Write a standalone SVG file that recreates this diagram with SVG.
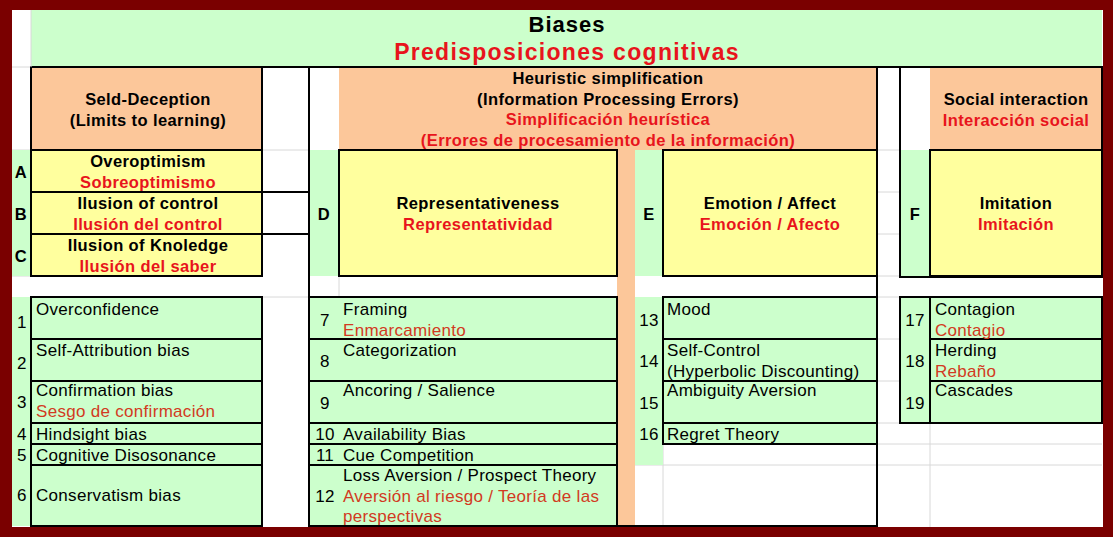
<svg xmlns="http://www.w3.org/2000/svg" width="1113" height="537" viewBox="0 0 1113 537">
<style>
text{font-family:"Liberation Sans",Arial,sans-serif;fill:#000}
.b{font-weight:bold;font-size:16.5px;letter-spacing:0.4px}
.r{fill:#e8141c}
.n{font-size:17px;letter-spacing:0.3px}
.ir{fill:#d23a22}
.c{text-anchor:middle}
.g{fill:#ccffcc}
.o{fill:#fcc79a}
.y{fill:#ffff9e}
.k{fill:none;stroke:#000;stroke-width:2}
.gl{stroke:#d8d8d8;stroke-width:1}
</style>
<rect width="1113" height="537" fill="#7a0000"/>
<rect x="12" y="10" width="1091" height="517" fill="#fff"/>
<g id="gridlines">
<line class="gl" x1="12" y1="67" x2="31" y2="67"/><line class="gl" x1="12" y1="150" x2="31" y2="150"/>
<line class="gl" x1="262" y1="150" x2="309" y2="150"/><line class="gl" x1="262" y1="297" x2="309" y2="297"/>
<line class="gl" x1="877" y1="150" x2="900" y2="150"/><line class="gl" x1="877" y1="192" x2="900" y2="192"/><line class="gl" x1="877" y1="234" x2="900" y2="234"/><line class="gl" x1="877" y1="276" x2="1102" y2="276"/>
<line class="gl" x1="877" y1="297" x2="900" y2="297"/><line class="gl" x1="877" y1="339" x2="900" y2="339"/><line class="gl" x1="877" y1="381" x2="900" y2="381"/><line class="gl" x1="877" y1="423" x2="900" y2="423"/>
<line class="gl" x1="635" y1="465" x2="1102" y2="465"/><line class="gl" x1="877" y1="444" x2="1102" y2="444"/>
<line class="gl" x1="930" y1="423" x2="930" y2="527"/><line class="gl" x1="663" y1="444" x2="663" y2="527"/>
<line class="gl" x1="339" y1="276" x2="339" y2="297"/><line class="gl" x1="12" y1="276" x2="31" y2="276"/>
</g>
<g id="title">
<rect x="31" y="10" width="1071" height="57" class="g"/>
<text x="567" y="32" class="c" style="font-weight:bold;font-size:22px;letter-spacing:1px">Biases</text>
<text x="567" y="60" class="c r" style="font-weight:bold;font-size:23px;letter-spacing:1.3px">Predisposiciones cognitivas</text>
</g>
<g id="self-deception">
<rect x="31" y="67" width="231" height="83" class="o"/>
<rect x="31" y="67" width="231" height="83" class="k"/>
<text x="148" y="105" class="b c">Seld-Deception</text>
<text x="148" y="126" class="b c">(Limits to learning)</text>
</g>
<g id="heuristic">
<rect x="339" y="67" width="538" height="83" class="o"/>
<rect x="617" y="150" width="18" height="377" class="o"/>
<text x="608" y="84" class="b c">Heuristic simplification</text>
<text x="608" y="105" class="b c">(Information Processing Errors)</text>
<text x="608" y="125" class="b c r">Simplificación heurística</text>
<text x="608" y="146" class="b c r">(Errores de procesamiento de la información)</text>
</g>
<g id="social">
<rect x="930" y="67" width="172" height="83" class="o"/>
<text x="1016" y="105" class="b c">Social interaction</text>
<text x="1016" y="126" class="b c r">Interacción social</text>
</g>
<g id="A-C">
<rect x="12" y="150" width="19" height="126" class="g"/>
<rect x="31" y="150" width="231" height="126" class="y"/>
<line x1="31" y1="192" x2="309" y2="192" stroke="#000" stroke-width="2"/>
<line x1="31" y1="234" x2="309" y2="234" stroke="#000" stroke-width="2"/>
<rect x="31" y="150" width="231" height="126" class="k"/>
<text x="21" y="178" class="b c">A</text><text x="21" y="220" class="b c">B</text><text x="21" y="262" class="b c">C</text>
<text x="148" y="167" class="b c">Overoptimism</text><text x="148" y="188" class="b c r">Sobreoptimismo</text>
<text x="148" y="209" class="b c">Ilusion of control</text><text x="148" y="230" class="b c r">Ilusión del control</text>
<text x="148" y="251" class="b c">Ilusion of Knoledge</text><text x="148" y="272" class="b c r">Ilusión del saber</text>
</g>
<g id="D">
<rect x="309" y="150" width="30" height="126" class="g"/>
<rect x="339" y="150" width="278" height="126" class="y"/>
<rect x="339" y="150" width="278" height="126" class="k"/>
<text x="324" y="220" class="b c">D</text>
<text x="478" y="209" class="b c">Representativeness</text>
<text x="478" y="230" class="b c r">Representatividad</text>
</g>
<g id="E">
<rect x="635" y="150" width="28" height="126" class="g"/>
<rect x="663" y="150" width="214" height="126" class="y"/>
<rect x="663" y="150" width="214" height="126" class="k"/>
<text x="649" y="220" class="b c">E</text>
<text x="770" y="209" class="b c">Emotion / Affect</text>
<text x="770" y="230" class="b c r">Emoción / Afecto</text>
</g>
<g id="F">
<rect x="900" y="150" width="30" height="126" class="g"/>
<rect x="930" y="150" width="172" height="126" class="y"/>
<rect x="930" y="150" width="172" height="126" class="k"/>
<text x="915" y="220" class="b c">F</text>
<text x="1016" y="209" class="b c">Imitation</text>
<text x="1016" y="230" class="b c r">Imitación</text>
</g>
<g id="items-1-6">
<rect x="12" y="297" width="19" height="229" class="g"/>
<rect x="31" y="297" width="231" height="229" class="g"/>
<path d="M31 339H262M31 381H262M31 423H262M31 444H262M31 465H262" stroke="#000" stroke-width="2"/>
<rect x="31" y="297" width="231" height="229" class="k"/>
<text x="22" y="328" class="c n">1</text><text x="36" y="315" class="n">Overconfidence</text>
<text x="22" y="369" class="c n">2</text><text x="36" y="356" class="n">Self-Attribution bias</text>
<text x="22" y="408" class="c n">3</text><text x="36" y="396" class="n">Confirmation bias</text><text x="36" y="417" class="n ir">Sesgo de confirmación</text>
<text x="22" y="440" class="c n">4</text><text x="36" y="440" class="n">Hindsight bias</text>
<text x="22" y="461" class="c n">5</text><text x="36" y="461" class="n">Cognitive Disosonance</text>
<text x="22" y="501" class="c n">6</text><text x="36" y="501" class="n">Conservatism bias</text>
</g>
<g id="items-7-12">
<rect x="309" y="297" width="308" height="229" class="g"/>
<path d="M309 339H617M309 381H617M309 423H617M309 444H617M309 465H617" stroke="#000" stroke-width="2"/>
<rect x="309" y="297" width="308" height="229" class="k"/>
<text x="325" y="326" class="c n">7</text><text x="343" y="315" class="n">Framing</text><text x="343" y="336" class="n ir">Enmarcamiento</text>
<text x="325" y="367" class="c n">8</text><text x="343" y="356" class="n">Categorization</text>
<text x="325" y="409" class="c n">9</text><text x="343" y="396" class="n">Ancoring / Salience</text>
<text x="325" y="440" class="c n">10</text><text x="343" y="440" class="n">Availability Bias</text>
<text x="325" y="461" class="c n">11</text><text x="343" y="461" class="n">Cue Competition</text>
<text x="325" y="502" class="c n">12</text><text x="343" y="481" class="n">Loss Aversion / Prospect Theory</text><text x="343" y="502" class="n ir">Aversión al riesgo / Teoría de las</text><text x="343" y="522" class="n ir">perspectivas</text>
</g>
<rect x="309" y="67" width="568" height="459" class="k"/>
<g id="items-13-16">
<rect x="635" y="297" width="28" height="168" class="g"/>
<rect x="663" y="297" width="214" height="147" class="g"/>
<path d="M663 339H877M663 381H877M663 423H877" stroke="#000" stroke-width="2"/>
<rect x="663" y="297" width="214" height="147" class="k"/>
<text x="649" y="326" class="c n">13</text><text x="667" y="315" class="n">Mood</text>
<text x="649" y="367" class="c n">14</text><text x="667" y="356" class="n">Self-Control</text><text x="667" y="377" class="n">(Hyperbolic Discounting)</text>
<text x="649" y="409" class="c n">15</text><text x="667" y="396" class="n">Ambiguity Aversion</text>
<text x="649" y="440" class="c n">16</text><text x="667" y="440" class="n">Regret Theory</text>
</g>
<g id="items-17-19">
<rect x="900" y="297" width="30" height="126" class="g"/>
<rect x="930" y="297" width="172" height="126" class="g"/>
<path d="M930 339H1102M930 381H1102M930 297V423" stroke="#000" stroke-width="2"/>
<rect x="900" y="297" width="202" height="126" class="k"/>
<text x="915" y="326" class="c n">17</text><text x="935" y="315" class="n">Contagion</text><text x="935" y="336" class="n ir">Contagio</text>
<text x="915" y="367" class="c n">18</text><text x="935" y="356" class="n">Herding</text><text x="935" y="377" class="n ir">Rebaño</text>
<text x="915" y="409" class="c n">19</text><text x="935" y="396" class="n">Cascades</text>
</g>
<rect x="900" y="67" width="202" height="210" class="k"/>
<line x1="31" y1="67" x2="1102" y2="67" stroke="#000" stroke-width="2"/>
<line x1="31" y1="10" x2="31" y2="67" stroke="#d8d8d8"/>
</svg>
